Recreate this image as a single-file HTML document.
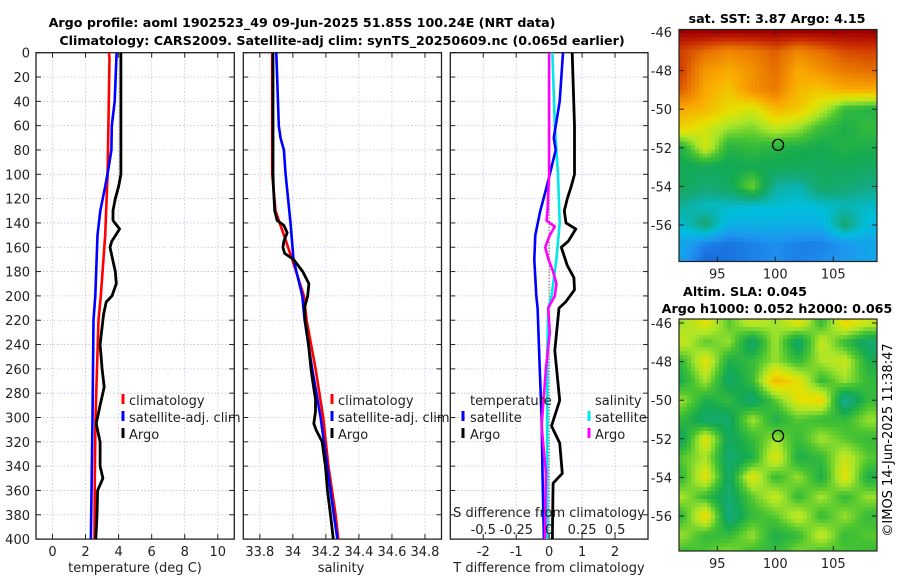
<!DOCTYPE html>
<html><head><meta charset="utf-8">
<style>
html,body{margin:0;padding:0;background:#fff;}
svg{display:block;font-family:"DejaVu Sans","Liberation Sans",sans-serif;}
</style></head>
<body>
<svg id="fig" width="900" height="580" viewBox="0 0 900 580" xmlns="http://www.w3.org/2000/svg">
<text x="302" y="27" text-anchor="middle" font-size="12.7" font-weight="bold">Argo profile: aoml 1902523_49 09-Jun-2025 51.85S 100.24E (NRT data)</text>
<text x="342" y="45" text-anchor="middle" font-size="12.7" font-weight="bold">Climatology: CARS2009. Satellite-adj clim: synTS_20250609.nc (0.065d earlier)</text>
<text x="777" y="23" text-anchor="middle" font-size="12.7" font-weight="bold">sat. SST: 3.87 Argo: 4.15</text>
<text x="745" y="296" text-anchor="middle" font-size="12.7" font-weight="bold">Altim. SLA: 0.045</text>
<text x="777" y="313" text-anchor="middle" font-size="12.7" font-weight="bold">Argo h1000: 0.052 h2000: 0.065</text>
<text transform="translate(892,440) rotate(-90)" text-anchor="middle" font-size="13">©IMOS 14-Jun-2025 11:38:47</text>
<g id="layer"></g>
</svg>
<script>
// ---- Temperature panel data ----
const tClimDepth = [0,5,100,150,200,220,300,350,400];
const tClim = [3.42,3.45,3.33,3.19,2.92,2.78,2.6,2.56,2.54];
const tSatDepth = [0,40,60,80,95,110,130,150,200,220,300,400];
const tSat = [3.88,3.76,3.59,3.56,3.39,3.19,2.89,2.72,2.59,2.48,2.42,2.32];
const tArgoDepth = [0,100,110,120,130,138,145,155,160,180,190,200,205,215,240,260,275,290,305,320,340,350,360,380,400];
const tArgo = [4.14,4.14,4.0,3.8,3.66,3.66,4.06,3.59,3.48,3.8,3.86,3.6,3.25,3.09,2.88,3.0,3.13,2.88,2.64,2.88,2.88,3.05,2.73,2.69,2.62];
const tTicks = [0,2,4,6,8,10];
// ---- Salinity panel data ----
const sClimDepth = [0,100,130,150,170,200,220,260,300,340,380,400];
const sClim = [33.875,33.875,33.895,33.946,33.996,34.067,34.083,34.138,34.184,34.215,34.259,34.275];
const sSatDepth = [0,60,70,80,100,140,170,200,220,260,300,340,380,400];
const sSat = [33.90,33.915,33.925,33.946,33.956,33.986,34.004,34.057,34.071,34.117,34.168,34.208,34.248,34.27];
const sArgoDepth = [0,100,110,130,138,142,148,155,160,165,170,180,190,200,210,220,240,260,270,285,295,305,310,320,340,360,380,400];
const sArgo = [33.88,33.88,33.882,33.89,33.905,33.946,33.966,33.946,33.94,33.95,34.004,34.06,34.097,34.09,34.07,34.075,34.095,34.11,34.12,34.137,34.137,34.127,34.14,34.177,34.197,34.21,34.228,34.245];
const sTicks = [33.8,34,34.2,34.4,34.6,34.8];
const sTickLabels = ["33.8","34","34.2","34.4","34.6","34.8"];
// ---- Difference panel data ----
const dTSatDepth = [0,40,70,80,100,115,130,150,170,200,210,250,300,350,400];
const dTSat = [0.42,0.32,0.14,0.2,0.02,-0.12,-0.27,-0.42,-0.45,-0.39,-0.35,-0.3,-0.23,-0.2,-0.16];
const dTArgoDepth = [0,60,100,110,120,130,140,145,155,160,175,185,195,205,210,245,286,307,321,346,354,395,400];
const dTArgo = [0.7,0.77,0.77,0.67,0.55,0.46,0.51,0.81,0.58,0.37,0.55,0.75,0.77,0.5,0.3,0.17,0.32,0.07,0.32,0.4,0.12,0.1,0.1];
const dSSatDepth = [0,60,100,140,170,200,210,250,400];
const dSSat = [0.025,0.0425,0.0675,0.08,0.055,0.0175,-0.0075,-0.015,-0.015];
const dSArgoDepth = [0,100,130,138,143,150,160,170,180,190,200,210,230,260,307,345,400];
const dSArgo = [0,0,-0.0125,-0.02,0.0425,0.005,-0.03,-0.005,0.03,0.055,0.0425,-0.0075,0.005,-0.025,-0.0575,-0.025,-0.0325];
const dTTicks = [-2,-1,0,1,2];
const dSTicks = [-0.5,-0.25,0,0.25,0.5];
const dSTickLabels = ["-0.5","-0.25","0","0.25","0.5"];
const depthTicks = [0,20,40,60,80,100,120,140,160,180,200,220,240,260,280,300,320,340,360,380,400];
// ---- Map data (rows: lat -46 .. -58, cols: lon 92 .. 108 step 2) ----
const mapLats = [-46,-47,-48,-49,-50,-51,-52,-53,-54,-55,-56,-57,-58];
const mapLons = [92,94,96,98,100,102,104,106,108];
const sstGrid = [
[0.97,0.97,0.97,0.97,0.97,0.97,0.97,0.97,0.97],
[0.87,0.82,0.78,0.8,0.84,0.78,0.82,0.86,0.87],
[0.87,0.75,0.72,0.76,0.82,0.72,0.76,0.8,0.82],
[0.84,0.72,0.68,0.76,0.8,0.7,0.68,0.72,0.72],
[0.72,0.7,0.65,0.62,0.7,0.68,0.6,0.5,0.48],
[0.66,0.62,0.57,0.55,0.6,0.57,0.5,0.47,0.5],
[0.48,0.62,0.48,0.5,0.48,0.47,0.46,0.48,0.47],
[0.45,0.45,0.45,0.46,0.45,0.45,0.44,0.45,0.44],
[0.45,0.42,0.44,0.55,0.38,0.36,0.44,0.42,0.4],
[0.38,0.35,0.35,0.34,0.34,0.33,0.34,0.36,0.35],
[0.34,0.42,0.3,0.3,0.3,0.3,0.3,0.42,0.32],
[0.28,0.22,0.2,0.22,0.24,0.22,0.22,0.25,0.28],
[0.27,0.18,0.2,0.22,0.24,0.22,0.24,0.26,0.28]];
const slaGrid = [
[0.57,0.64,0.53,0.61,0.57,0.64,0.5,0.66,0.61],
[0.61,0.53,0.57,0.42,0.58,0.42,0.61,0.5,0.42],
[0.5,0.64,0.47,0.5,0.57,0.5,0.58,0.61,0.47],
[0.47,0.58,0.43,0.5,0.7,0.64,0.5,0.57,0.5],
[0.57,0.47,0.5,0.42,0.53,0.64,0.66,0.38,0.5],
[0.5,0.42,0.43,0.58,0.47,0.53,0.5,0.5,0.57],
[0.44,0.64,0.44,0.5,0.57,0.5,0.58,0.53,0.5],
[0.53,0.58,0.42,0.47,0.64,0.47,0.5,0.61,0.53],
[0.5,0.64,0.43,0.64,0.5,0.57,0.47,0.64,0.47],
[0.58,0.5,0.42,0.53,0.61,0.5,0.58,0.5,0.57],
[0.5,0.66,0.4,0.5,0.53,0.61,0.5,0.57,0.5],
[0.57,0.5,0.5,0.57,0.47,0.5,0.61,0.5,0.53],
[0.5,0.53,0.57,0.5,0.5,0.57,0.5,0.53,0.5]];
const argoLon = 100.24, argoLat = -51.85;
const mapYTicks = [-46,-48,-50,-52,-54,-56];
const mapXTicks = [95,100,105];

const NS = "http://www.w3.org/2000/svg";
const layer = document.getElementById('layer');
function mk(tag, attrs, parent){ const e=document.createElementNS(NS,tag); for(const k in attrs) e.setAttribute(k,attrs[k]); (parent||layer).appendChild(e); return e; }

const Y0 = 52.7, Y1 = 539.1;
function yD(d){ return Y0 + d/400*(Y1-Y0); }
const panels = {
  t:{x0:36,x1:234.3,min:-1,max:11},
  s:{x0:243.3,x1:441.5,min:33.7,max:34.9},
  d:{x0:450.3,x1:648,min:-3,max:3}
};
function xP(p,v){ return p.x0 + (v-p.min)/(p.max-p.min)*(p.x1-p.x0); }

function drawPanel(key, ticks, labels, name){
  const p = panels[key];
  const g = mk('g',{});
  
  
  depthTicks.forEach(d=>{ const l=mk('line',{x1:p.x0,x2:p.x1,y1:yD(d),y2:yD(d),stroke:'#b9c0e4','stroke-width':0.8,'stroke-dasharray':'1.5,2'},g);   });
  ticks.forEach((v,i)=>{ const x=xP(p,v);
    const l=mk('line',{x1:x,x2:x,y1:Y0,y2:Y1,stroke:'#c8bfd8','stroke-width':0.8,'stroke-dasharray':'1.5,2'},g);  
    mk('line',{x1:x,x2:x,y1:Y1,y2:Y1-5,stroke:'#222'},g); mk('line',{x1:x,x2:x,y1:Y0,y2:Y0+5,stroke:'#222'},g);
    const t=mk('text',{x:x,y:556,'text-anchor':'middle','font-size':13,fill:'#222'},g); t.textContent=labels[i];
     
  });
  depthTicks.forEach(d=>{ mk('line',{x1:p.x0,x2:p.x0+5,y1:yD(d),y2:yD(d),stroke:'#222'},g); mk('line',{x1:p.x1,x2:p.x1-5,y1:yD(d),y2:yD(d),stroke:'#222'},g); });
  const r=mk('rect',{x:p.x0,y:Y0,width:p.x1-p.x0,height:Y1-Y0,fill:'none',stroke:'#222','stroke-width':1.3},g);
   
  return g;
}
function line(key, depths, vals, color, w, name, scale){
  const p = panels[key]; const sc = scale||1;
  const pts = depths.map((d,i)=> xP(p, vals[i]*sc).toFixed(1)+','+yD(d).toFixed(1)).join(' ');
  const e = mk('polyline',{points:pts,fill:'none',stroke:color,'stroke-width':w,'stroke-linejoin':'round'});
  
  
}
function txt(x,y,s,name,opts){ const t=mk('text',Object.assign({x:x,y:y,'font-size':13,fill:'#222'},opts||{})); t.textContent=s;   return t; }
function legMark(x,y,color,name){ const l=mk('line',{x1:x,x2:x,y1:y-11,y2:y-1,stroke:color,'stroke-width':3});   }

drawPanel('t', tTicks, tTicks.map(String), 'temperature');
drawPanel('s', sTicks, sTickLabels, 'salinity');
drawPanel('d', dTTicks, dTTicks.map(String), 'difference');
depthTicks.forEach(d=>{ txt(30,yD(d)+5,String(d),'depth-tick-label',{'text-anchor':'end'}); });

(function(){ const x=xP(panels.d,0); const l=mk('line',{x1:x,x2:x,y1:Y0,y2:Y1,stroke:'#333','stroke-width':1,'stroke-dasharray':'1,2'});   })();

line('t', tClimDepth, tClim, '#ff0000', 2.6, 'temperature-climatology-line');
line('t', tSatDepth, tSat, '#0000ff', 2.6, 'temperature-satellite-line');
line('t', tArgoDepth, tArgo, '#000', 2.8, 'temperature-argo-line');
line('s', sClimDepth, sClim, '#ff0000', 2.6, 'salinity-climatology-line');
line('s', sSatDepth, sSat, '#0000ff', 2.6, 'salinity-satellite-line');
line('s', sArgoDepth, sArgo, '#000', 2.8, 'salinity-argo-line');
line('d', dSSatDepth, dSSat, '#00e8e8', 2.6, 'salinity-diff-satellite-line', 4);
line('d', dTSatDepth, dTSat, '#0000ff', 2.6, 'temperature-diff-satellite-line');
line('d', dSArgoDepth, dSArgo, '#ff00ff', 2.6, 'salinity-diff-argo-line', 4);
line('d', dTArgoDepth, dTArgo, '#000', 2.8, 'temperature-diff-argo-line');

txt(549,517,'S difference from climatology','s-diff-axis-title',{'text-anchor':'middle'});
dSTicks.forEach((v,i)=>{ txt(xP(panels.d,v*4),534,dSTickLabels[i],'s-diff-tick-label',{'text-anchor':'middle'}); });

txt(135,572,'temperature (deg C)','temperature-axis-title',{'text-anchor':'middle'});
txt(341,572,'salinity','salinity-axis-title',{'text-anchor':'middle'});
txt(549,572,'T difference from climatology','t-diff-axis-title',{'text-anchor':'middle'});

[[ 'climatology','#ff0000'],['satellite-adj. clim','#0000ff'],['Argo','#000']].forEach((e,i)=>{
  const y=405+i*17;
  legMark(123,y,e[1],'temperature-legend-marker'); txt(129,y,e[0],'temperature-legend-entry');
  legMark(332,y,e[1],'salinity-legend-marker'); txt(338,y,e[0],'salinity-legend-entry');
});
txt(470,405,'temperature','diff-legend-temperature-header');
legMark(463,422,'#0000ff','diff-legend-marker'); txt(470,422,'satellite','diff-legend-temp-satellite');
legMark(463,439,'#000','diff-legend-marker'); txt(470,439,'Argo','diff-legend-temp-argo');
txt(595,405,'salinity','diff-legend-salinity-header');
legMark(589,422,'#00e8e8','diff-legend-marker'); txt(595,422,'satellite','diff-legend-sal-satellite');
legMark(589,439,'#ff00ff','diff-legend-marker'); txt(595,439,'Argo','diff-legend-sal-argo');

const cstops = [[0.15,[20,80,210]],[0.25,[30,150,240]],[0.33,[0,190,220]],[0.4,[20,170,130]],[0.46,[20,170,80]],[0.52,[70,195,50]],[0.58,[170,230,40]],[0.64,[230,225,0]],[0.72,[250,170,0]],[0.82,[230,110,0]],[0.9,[200,40,0]],[0.97,[160,0,0]]];
function cmap(v){
  if(v<=cstops[0][0]) return 'rgb('+cstops[0][1]+')';
  for(let i=1;i<cstops.length;i++){ if(v<=cstops[i][0]){ const a=cstops[i-1],b=cstops[i],t=(v-a[0])/(b[0]-a[0]);
    return 'rgb('+a[1].map((c,k)=>Math.round(c+(b[1][k]-c)*t)).join(',')+')'; } }
  return 'rgb('+cstops[cstops.length-1][1]+')';
}
function sample(grid, lon, lat){
  let fc=(lon-mapLons[0])/2, fr=(mapLats[0]-lat);
  fc=Math.max(0,Math.min(mapLons.length-1.001,fc)); fr=Math.max(0,Math.min(mapLats.length-1.001,fr));
  const c=Math.floor(fc), r=Math.floor(fr), tc=fc-c, tr=fr-r;
  return grid[r][c]*(1-tc)*(1-tr)+grid[r][c+1]*tc*(1-tr)+grid[r+1][c]*(1-tc)*tr+grid[r+1][c+1]*tc*tr;
}
const MX0=679, MX1=877, LON0=91.7, PXDEG=11.6, LATPX=19.3;
function drawMap(grid, top, bottom, tick0y, name){
  const g=mk('g',{});  
  const xL=lon=>MX0+(lon-LON0)*PXDEG, yL=lat=>tick0y+(-46-lat)*LATPX;
  const cw=4, ch=4;
  for(let y=top;y<bottom;y+=ch){ for(let x=MX0;x<MX1;x+=cw){
    const lon=LON0+(x+cw/2-MX0)/PXDEG, lat=-46-((y+ch/2)-tick0y)/LATPX;
    const r=mk('rect',{x:x,y:y,width:Math.min(cw,MX1-x)+0.3,height:Math.min(ch,bottom-y)+0.3,fill:cmap(sample(grid,lon,lat))},g);
    
    
  }}
  const fr=mk('rect',{x:MX0,y:top,width:MX1-MX0,height:bottom-top,fill:'none',stroke:'#222','stroke-width':1.2},g);
   
  mapYTicks.forEach(lat=>{ const y=yL(lat); mk('line',{x1:MX0,x2:MX0+5,y1:y,y2:y,stroke:'#222'},g); mk('line',{x1:MX1,x2:MX1-5,y1:y,y2:y,stroke:'#222'},g);
    txt(672,y+5,String(lat),'map-lat-tick-label',{'text-anchor':'end'}); });
  mapXTicks.forEach(lon=>{ const x=xL(lon); mk('line',{x1:x,x2:x,y1:bottom,y2:bottom-5,stroke:'#222'},g); mk('line',{x1:x,x2:x,y1:top,y2:top+5,stroke:'#222'},g);
    txt(x,bottom+17,String(lon),'map-lon-tick-label',{'text-anchor':'middle'}); });
  const c=mk('circle',{cx:xL(argoLon),cy:yL(argoLat),r:5.5,fill:'none',stroke:'#000','stroke-width':1.3},g);
   
}
drawMap(sstGrid, 29.5, 261.5, 32, 'sst-map');
drawMap(slaGrid, 319, 551, 323, 'sla-map');
</script>
</body></html>
